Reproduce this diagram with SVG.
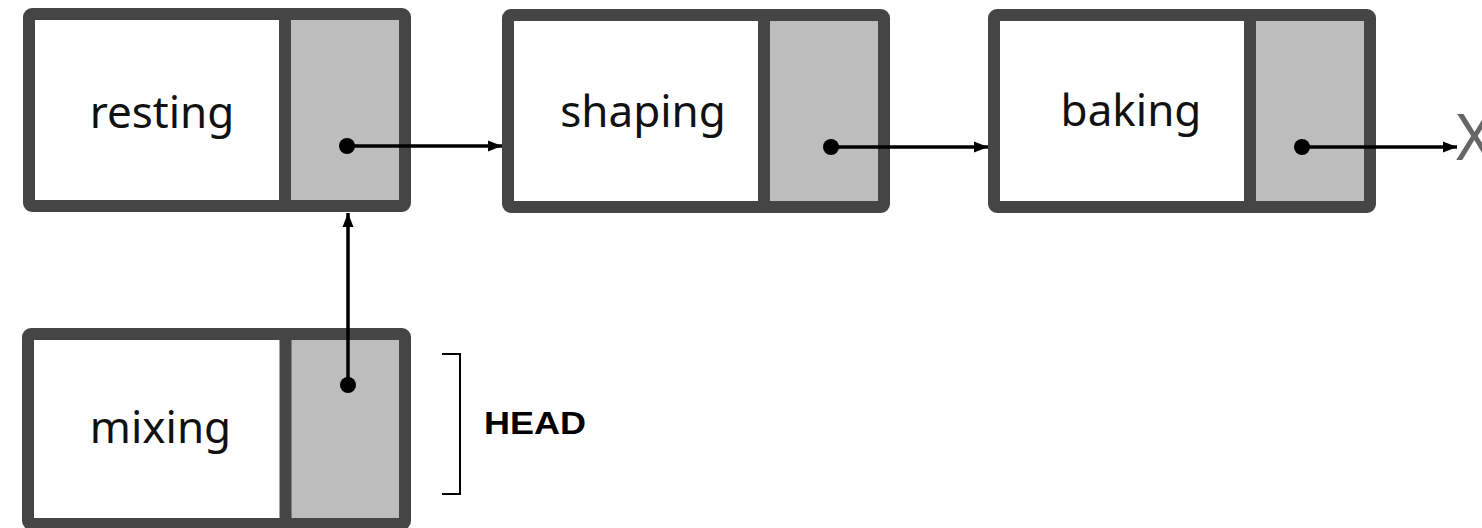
<svg xmlns="http://www.w3.org/2000/svg" width="1482" height="528" viewBox="0 0 1482 528">
  <style>
    .frame { fill: none; stroke: #454545; stroke-width: 12; }
    .inner { fill: #ffffff; }
    .ptr { fill: #bdbdbd; }
    .div { stroke: #454545; stroke-width: 12; }
    .lbl { font-family: "Noto Sans", "Open Sans", sans-serif; font-size: 44px; fill: #111; text-anchor: middle; }
    .wire { stroke: #000; stroke-width: 3.5; fill: none; }
    .dot { fill: #000; }
  </style>
  <defs>
    <marker id="arr" markerUnits="userSpaceOnUse" markerWidth="15" markerHeight="12" refX="14" refY="6" orient="auto">
      <path d="M0,0.5 L14,6 L0,11.5 z" fill="#000"/>
    </marker>
  </defs>
  <rect width="1482" height="528" fill="#ffffff"/>

  <g id="node-resting">
    <rect class="inner" x="29" y="14" width="376" height="192"/>
    <rect class="ptr" x="285" y="14" width="120" height="192"/>
    <line class="div" x1="285" y1="14" x2="285" y2="206"/>
    <rect class="frame" x="29" y="14" width="376" height="192" rx="3"/>
    <text class="lbl" x="162" y="128">resting</text>
  </g>

  <g id="node-shaping">
    <rect class="inner" x="508" y="15" width="376" height="192"/>
    <rect class="ptr" x="764" y="15" width="120" height="192"/>
    <line class="div" x1="764" y1="15" x2="764" y2="207"/>
    <rect class="frame" x="508" y="15" width="376" height="192" rx="3"/>
    <text class="lbl" x="643" y="127">shaping</text>
  </g>

  <g id="node-baking">
    <rect class="inner" x="994" y="15" width="376" height="192"/>
    <rect class="ptr" x="1250" y="15" width="120" height="192"/>
    <line class="div" x1="1250" y1="15" x2="1250" y2="207"/>
    <rect class="frame" x="994" y="15" width="376" height="192" rx="3"/>
    <text class="lbl" x="1131" y="126">baking</text>
  </g>

  <g id="node-mixing">
    <rect class="inner" x="28" y="334" width="377" height="190"/>
    <rect class="ptr" x="285.5" y="334" width="119.5" height="190"/>
    <line class="div" x1="285.5" y1="334" x2="285.5" y2="524"/>
    <rect class="frame" x="28" y="334" width="377" height="190" rx="3"/>
    <text class="lbl" x="160.5" y="443">mixing</text>
  </g>

  <g id="head-label">
    <path d="M442,354 L460,354 L460,494 L442,494" fill="none" stroke="#000" stroke-width="2"/>
    <text x="484" y="434" font-family="'Liberation Sans', Arial, sans-serif" font-size="32" font-weight="bold" fill="#000" textLength="102" lengthAdjust="spacingAndGlyphs">HEAD</text>
  </g>

  <g id="null-end">
    <text x="1456" y="160" font-family="'Noto Sans', 'Open Sans', sans-serif" font-size="63" fill="#666666">X</text>
  </g>

  <g id="connectors">
    <circle class="dot" cx="347" cy="146" r="8"/>
    <line class="wire" x1="347" y1="146" x2="502" y2="146" marker-end="url(#arr)"/>
    <circle class="dot" cx="831" cy="147" r="8"/>
    <line class="wire" x1="831" y1="147" x2="988" y2="147" marker-end="url(#arr)"/>
    <circle class="dot" cx="1302" cy="147" r="8"/>
    <line class="wire" x1="1302" y1="147" x2="1457" y2="147" marker-end="url(#arr)"/>
    <circle class="dot" cx="348" cy="385" r="8"/>
    <line class="wire" x1="348" y1="385" x2="348" y2="213" marker-end="url(#arr)"/>
  </g>
</svg>
